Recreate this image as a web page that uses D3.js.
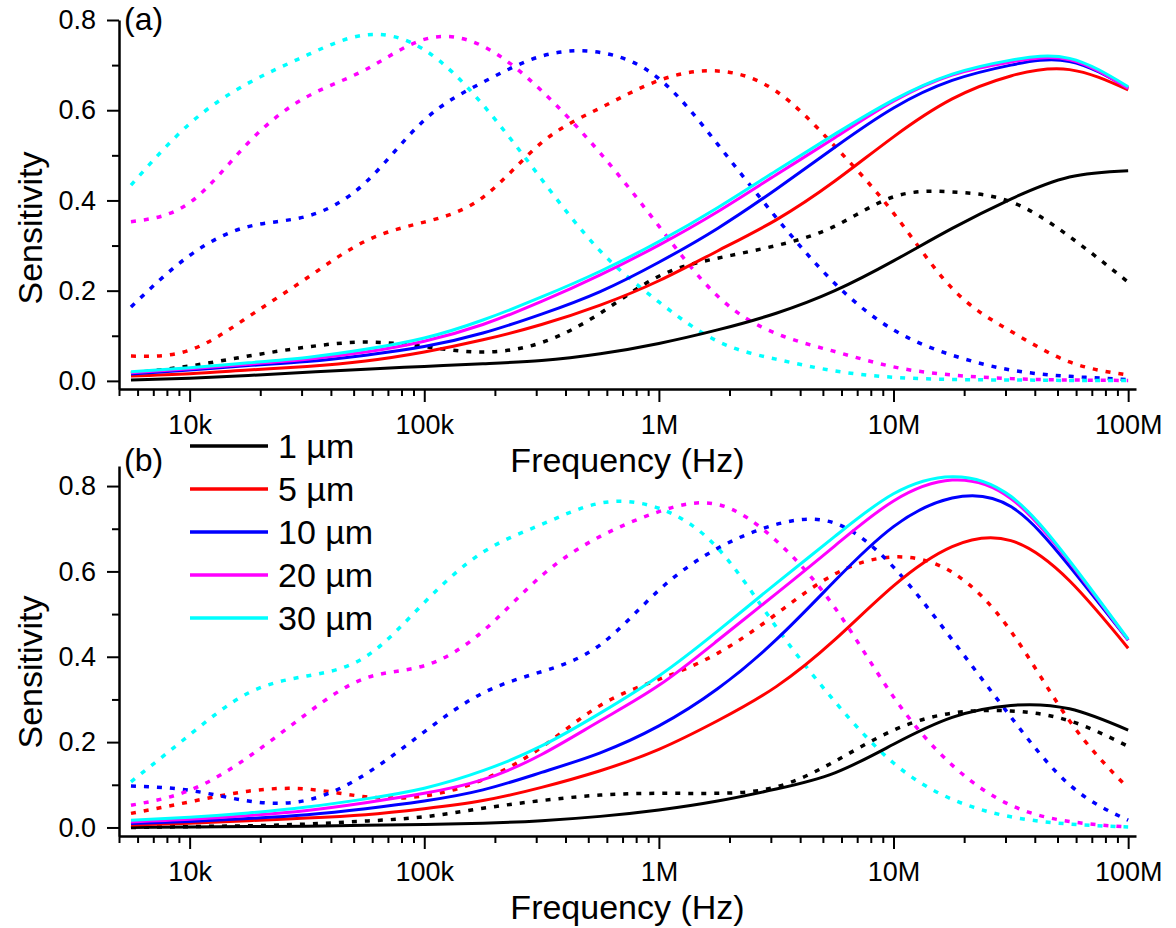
<!DOCTYPE html>
<html>
<head>
<meta charset="utf-8">
<script src="https://cdn.jsdelivr.net/npm/d3@7"></script>
<style>
  html, body { margin: 0; padding: 0; background: #fff; }
  svg { display: block; }
  text { font-family: "Liberation Sans", Arial, sans-serif; fill: #000; }
</style>
</head>
<body>
<svg id="chart" width="1176" height="928"></svg>
<script>
// ---------- data ----------
const freqs = [5623, 10000, 17783, 31623, 56234, 100000, 177828, 316228, 562341,
  1000000, 1778279, 3162278, 5623413, 10000000, 17782794, 31622777, 56234133, 100000000];

const seriesNames = ["1 µm", "5 µm", "10 µm", "20 µm", "30 µm"];

// Panel (a) solid curves
const aSolid1 = [0.002, 0.006, 0.012, 0.019, 0.026, 0.032, 0.038, 0.045, 0.060, 0.083, 0.113, 0.150, 0.200, 0.266, 0.338, 0.403, 0.452, 0.466];
const aSolid5 = [0.011, 0.016, 0.024, 0.032, 0.044, 0.064, 0.091, 0.125, 0.168, 0.222, 0.288, 0.357, 0.443, 0.541, 0.625, 0.676, 0.690, 0.645];
const aSolid10 = [0.015, 0.024, 0.034, 0.043, 0.057, 0.076, 0.106, 0.148, 0.198, 0.263, 0.338, 0.425, 0.518, 0.605, 0.666, 0.700, 0.708, 0.649];
const aSolid20 = [0.018, 0.027, 0.037, 0.048, 0.064, 0.088, 0.125, 0.176, 0.235, 0.301, 0.375, 0.457, 0.539, 0.620, 0.678, 0.707, 0.712, 0.648];
const aSolid30 = [0.020, 0.029, 0.040, 0.052, 0.070, 0.095, 0.135, 0.186, 0.243, 0.309, 0.384, 0.466, 0.547, 0.623, 0.680, 0.711, 0.715, 0.652];

// Panel (a) dotted curves
const aDot1 = [0.017, 0.033, 0.055, 0.075, 0.086, 0.076, 0.064, 0.085, 0.150, 0.232, 0.272, 0.300, 0.343, 0.408, 0.419, 0.397, 0.320, 0.219];
const aDot5 = [0.055, 0.068, 0.142, 0.228, 0.310, 0.352, 0.407, 0.528, 0.605, 0.666, 0.687, 0.642, 0.520, 0.372, 0.205, 0.110, 0.042, 0.013];
const aDot10 = [0.164, 0.278, 0.342, 0.365, 0.440, 0.578, 0.662, 0.720, 0.728, 0.670, 0.525, 0.362, 0.216, 0.113, 0.057, 0.024, 0.010, 0.003];
const aDot20 = [0.353, 0.395, 0.528, 0.630, 0.690, 0.757, 0.742, 0.643, 0.505, 0.343, 0.188, 0.105, 0.065, 0.031, 0.013, 0.005, 0.002, 0.001];
const aDot30 = [0.434, 0.570, 0.660, 0.722, 0.767, 0.734, 0.612, 0.447, 0.288, 0.175, 0.088, 0.048, 0.022, 0.008, 0.003, 0.002, 0.001, 0.001];

// Panel (b) solid curves
const bSolid1 = [0.000, 0.001, 0.002, 0.003, 0.005, 0.007, 0.010, 0.016, 0.026, 0.041, 0.062, 0.090, 0.128, 0.195, 0.258, 0.286, 0.278, 0.228];
const bSolid5 = [0.006, 0.010, 0.016, 0.022, 0.030, 0.044, 0.063, 0.094, 0.133, 0.183, 0.250, 0.330, 0.440, 0.566, 0.658, 0.672, 0.578, 0.420];
const bSolid10 = [0.009, 0.014, 0.021, 0.030, 0.044, 0.062, 0.088, 0.129, 0.175, 0.238, 0.325, 0.440, 0.578, 0.705, 0.772, 0.752, 0.612, 0.439];
const bSolid20 = [0.013, 0.019, 0.028, 0.040, 0.058, 0.080, 0.112, 0.171, 0.250, 0.333, 0.438, 0.548, 0.660, 0.765, 0.814, 0.771, 0.622, 0.439];
const bSolid30 = [0.017, 0.024, 0.034, 0.048, 0.067, 0.092, 0.133, 0.191, 0.268, 0.355, 0.460, 0.572, 0.682, 0.782, 0.822, 0.776, 0.625, 0.441];

// Panel (b) dotted curves
const bDot1 = [0.000, 0.002, 0.004, 0.008, 0.015, 0.025, 0.045, 0.063, 0.076, 0.080, 0.080, 0.095, 0.155, 0.228, 0.268, 0.273, 0.250, 0.190];
const bDot5 = [0.033, 0.060, 0.085, 0.090, 0.072, 0.074, 0.112, 0.188, 0.286, 0.347, 0.408, 0.500, 0.594, 0.634, 0.598, 0.460, 0.250, 0.092];
const bDot10 = [0.097, 0.087, 0.062, 0.064, 0.125, 0.224, 0.315, 0.365, 0.428, 0.556, 0.654, 0.710, 0.713, 0.610, 0.440, 0.259, 0.100, 0.017];
const bDot20 = [0.052, 0.087, 0.165, 0.267, 0.350, 0.379, 0.460, 0.590, 0.682, 0.740, 0.757, 0.672, 0.515, 0.306, 0.146, 0.052, 0.014, 0.001];
const bDot30 = [0.107, 0.217, 0.315, 0.355, 0.400, 0.527, 0.645, 0.710, 0.760, 0.748, 0.655, 0.470, 0.295, 0.151, 0.066, 0.025, 0.008, 0.001];

// Tick values and labels
const xMajorTicks = [1e4, 1e5, 1e6, 1e7, 1e8];
const xMajorLabels = ["10k", "100k", "1M", "10M", "100M"];
const yMajorTicks = [0, 0.2, 0.4, 0.6, 0.8];
const yMajorLabels = ["0.0", "0.2", "0.4", "0.6", "0.8"];
const yMinorTicks = [0.1, 0.3, 0.5, 0.7];

// ---------- styles ----------
const colors = ["#000000", "#ff0000", "#0000ff", "#ff00ff", "#00ffff"];

// ---------- drawing ----------
const svg = d3.select("#chart");

const xMinorTicks = [];
[1e3, 1e4, 1e5, 1e6, 1e7].forEach(dec => {
  for (let m = 2; m <= 9; m++) {
    const v = dec * m;
    if (v >= 5000 && v <= 1e8) xMinorTicks.push(v);
  }
});

const x = d3.scaleLog().domain([5000, 1.08e8]).range([119, 1136]);

function drawPanel(cfg) {
  const y = d3.scaleLinear().domain(cfg.yDomain).range(cfg.yRange);
  const g = svg.append("g");

  const line = d3.line()
    .x((d, i) => x(freqs[i]))
    .y(d => y(d))
    .curve(d3.curveNatural);

  cfg.dotted.forEach((arr, k) => {
    g.append("path").datum(arr)
      .attr("d", line)
      .attr("fill", "none")
      .attr("stroke", colors[k])
      .attr("stroke-width", 3.5)
      .attr("stroke-dasharray", "5 8");
  });
  cfg.solid.forEach((arr, k) => {
    g.append("path").datum(arr)
      .attr("d", line)
      .attr("fill", "none")
      .attr("stroke", colors[k])
      .attr("stroke-width", 3);
  });

  const axisY0 = cfg.yRange[0];

  const xMinor = g.append("g").attr("transform", `translate(0,${axisY0})`)
    .call(d3.axisBottom(x).tickValues(xMinorTicks).tickSize(7).tickSizeOuter(0).tickFormat(""));
  xMinor.select(".domain").remove();
  g.append("g").attr("transform", `translate(0,${axisY0})`)
    .call(d3.axisBottom(x).tickValues(xMajorTicks).tickSize(13).tickSizeOuter(0).tickPadding(13)
      .tickFormat((d, i) => xMajorLabels[i]));
  const yMinor = g.append("g").attr("transform", `translate(119,0)`)
    .call(d3.axisLeft(y).tickValues(yMinorTicks).tickSize(7).tickSizeOuter(0).tickFormat(""));
  yMinor.select(".domain").remove();
  g.append("g").attr("transform", `translate(119,0)`)
    .call(d3.axisLeft(y).tickValues(yMajorTicks).tickSize(12).tickSizeOuter(0).tickPadding(11)
      .tickFormat((d, i) => yMajorLabels[i]));

  g.selectAll(".domain").attr("stroke", "#000").attr("stroke-width", 2.5);
  g.selectAll(".tick line").attr("stroke", "#000").attr("stroke-width", 2);
  g.selectAll(".tick text").attr("font-size", 27)
    .attr("font-family", "'Liberation Sans', Arial, sans-serif").attr("fill", "#000");

  g.append("text")
    .attr("x", 627.5).attr("y", cfg.xTitleY)
    .attr("text-anchor", "middle").attr("font-size", 34)
    .text("Frequency (Hz)");
  g.append("text")
    .attr("transform", `translate(42,${cfg.yTitleY}) rotate(-90)`)
    .attr("text-anchor", "middle").attr("font-size", 34)
    .text("Sensitivity");

  g.append("text")
    .attr("x", 124).attr("y", cfg.labelY)
    .attr("font-size", 32)
    .text(cfg.label);

  return { g, y };
}

drawPanel({
  yDomain: [-0.018, 0.8], yRange: [389, 20],
  solid: [aSolid1, aSolid5, aSolid10, aSolid20, aSolid30],
  dotted: [aDot1, aDot5, aDot10, aDot20, aDot30],
  xTitleY: 472, yTitleY: 228, label: "(a)", labelY: 30
});

drawPanel({
  yDomain: [-0.02, 0.847], yRange: [836, 466],
  solid: [bSolid1, bSolid5, bSolid10, bSolid20, bSolid30],
  dotted: [bDot1, bDot5, bDot10, bDot20, bDot30],
  xTitleY: 919, yTitleY: 672, label: "(b)", labelY: 471
});

// legend
const legendY = d3.scalePoint().domain(seriesNames).range([446, 618]);
const leg = svg.append("g");
seriesNames.forEach((name, k) => {
  leg.append("line")
    .attr("x1", 190).attr("x2", 268)
    .attr("y1", legendY(name)).attr("y2", legendY(name))
    .attr("stroke", colors[k]).attr("stroke-width", 3.5);
  leg.append("text")
    .attr("x", 278).attr("y", legendY(name))
    .attr("dy", "0.35em")
    .attr("font-size", 34)
    .text(name);
});
</script>
</body>
</html>
